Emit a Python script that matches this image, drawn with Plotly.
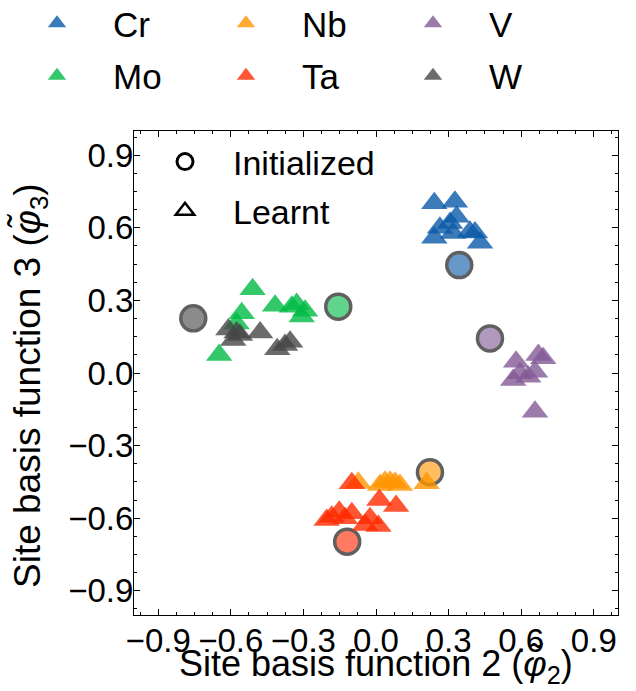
import plotly.graph_objects as go

# Elements, in drawing / legend order
elements = ["Cr", "Mo", "Nb", "Ta", "V", "W"]
colors = ["#0b5aa7", "#00bb45", "#ff9500", "#ff2a00", "#835a96", "#464646"]

# Initialized site-basis values (one per element)
init_x = [0.344, -0.156, 0.223, -0.119, 0.471, -0.755]
init_y = [0.446, 0.274, -0.410, -0.697, 0.143, 0.226]

# Learnt site-basis values
cr_x = [0.241, 0.326, 0.333, 0.306, 0.241, 0.388, 0.409, 0.430, 0.318, 0.264]
cr_y = [0.701, 0.708, 0.646, 0.620, 0.559, 0.584, 0.581, 0.538, 0.579, 0.600]

mo_x = [-0.510, -0.555, -0.417, -0.328, -0.348, -0.293, -0.307, -0.576, -0.648]
mo_y = [0.346, 0.247, 0.278, 0.285, 0.274, 0.257, 0.233, 0.205, 0.074]

nb_x = [0.209, -0.073, 0.037, 0.058, 0.079, 0.099, 0.017]
nb_y = [-0.456, -0.453, -0.449, -0.449, -0.453, -0.463, -0.463]

ta_x = [-0.100, 0.014, 0.083, -0.183, -0.152, -0.100, -0.025, 0.010, -0.045, -0.128, -0.204]
ta_y = [-0.456, -0.525, -0.550, -0.594, -0.573, -0.580, -0.600, -0.632, -0.628, -0.600, -0.607]

v_x = [0.579, 0.671, 0.691, 0.595, 0.567, 0.629, 0.657, 0.657]
v_y = [0.047, 0.074, 0.061, -0.001, -0.029, -0.015, 0.005, -0.160]

w_x = [-0.610, -0.576, -0.562, -0.479, -0.408, -0.376, -0.355, -0.590]
w_y = [0.180, 0.167, 0.157, 0.167, 0.098, 0.116, 0.129, 0.136]

learnt_x = [cr_x, mo_x, nb_x, ta_x, v_x, w_x]
learnt_y = [cr_y, mo_y, nb_y, ta_y, v_y, w_y]
legend_ids = ["legend", "legend", "legend2", "legend2", "legend3", "legend3"]

x_title = "Site basis function 2 (<i>φ̃</i><sub>2</sub>)"
y_title = "Site basis function 3 (<i>φ̃</i><sub>3</sub>)"

FONT = "Liberation Sans, Arial, Helvetica, sans-serif"

# plot-area geometry in pixels (used to place legends / titles in paper units)
W, H = 636, 691
ML, MR, MT, MB = 134, 18, 131, 76
PW, PH = W - ML - MR, H - MT - MB


def px_x(px):
    return (px - ML) / PW


def px_y(py):
    return (H - MB - py) / PH


fig = go.Figure()

for i, el in enumerate(elements):
    # initialized value: translucent filled circle with dark rim
    fig.add_trace(go.Scatter(
        x=[init_x[i]], y=[init_y[i]], mode="markers",
        marker=dict(symbol="circle", size=25, color=colors[i], opacity=0.62,
                    line=dict(color="black", width=3.5)),
        showlegend=False, hoverinfo="skip",
    ))
    # learnt values: translucent triangles
    fig.add_trace(go.Scatter(
        x=learnt_x[i], y=learnt_y[i], mode="markers", name=el,
        marker=dict(symbol="triangle-up", size=23, color=colors[i], opacity=0.8,
                    line=dict(width=0)),
        legend=legend_ids[i], legendgroup=el,
    ))

# marker-style key inside the axes
fig.add_trace(go.Scatter(
    x=[None], y=[None], mode="markers", name="Initialized",
    marker=dict(symbol="circle-open", size=16, color="black", line=dict(width=3)),
    legend="legend4", legendgroup="init",
))
fig.add_trace(go.Scatter(
    x=[None], y=[None], mode="markers", name="Learnt",
    marker=dict(symbol="triangle-up-open", size=16, color="black", line=dict(width=2.5)),
    legend="legend4", legendgroup="learnt",
))

legend_common = dict(
    xref="paper", yref="paper", yanchor="top", xanchor="left",
    orientation="v", bgcolor="rgba(0,0,0,0)", borderwidth=0,
    font=dict(family=FONT, size=35, color="black"), itemwidth=102,
    tracegroupgap=4,
)

axis_common = dict(
    range=[-1, 1], tickmode="linear", tick0=0, dtick=0.3, tickformat=".1f",
    ticks="inside", ticklen=6, tickwidth=1, tickcolor="black",
    showline=True, linecolor="black", linewidth=1, mirror="ticks",
    showgrid=False, zeroline=False, tickangle=0,
    tickfont=dict(family=FONT, size=33, color="black"),
    minor=dict(ticks="inside", tick0=0, dtick=0.075, ticklen=3,
               tickcolor="black", tickwidth=1, showgrid=False),
)

top_y = px_y(-6)

fig.update_layout(
    width=W, height=H,
    margin=dict(l=ML, r=MR, t=MT, b=MB, autoexpand=False),
    paper_bgcolor="white", plot_bgcolor="white",
    font=dict(family=FONT, color="black"),
    xaxis=dict(axis_common, ticklabelstandoff=-4),
    yaxis=dict(axis_common, ticklabelstandoff=-7),
    legend=dict(legend_common, x=px_x(1), y=top_y),
    legend2=dict(legend_common, x=px_x(190), y=top_y),
    legend3=dict(legend_common, x=px_x(377), y=top_y),
    legend4=dict(legend_common, x=px_x(137), y=px_y(133), itemwidth=86,
                 tracegroupgap=2, font=dict(family=FONT, size=34, color="black")),
    annotations=[
        dict(text=x_title, xref="paper", yref="paper", x=0.5, y=px_y(691),
             xanchor="center", yanchor="bottom", showarrow=False,
             font=dict(family=FONT, size=36, color="black")),
        dict(text=y_title, xref="paper", yref="paper", x=px_x(30), y=px_y(386),
             xanchor="center", yanchor="middle", showarrow=False, textangle=-90,
             font=dict(family=FONT, size=37, color="black")),
    ],
)

fig.write_html("out.html")
